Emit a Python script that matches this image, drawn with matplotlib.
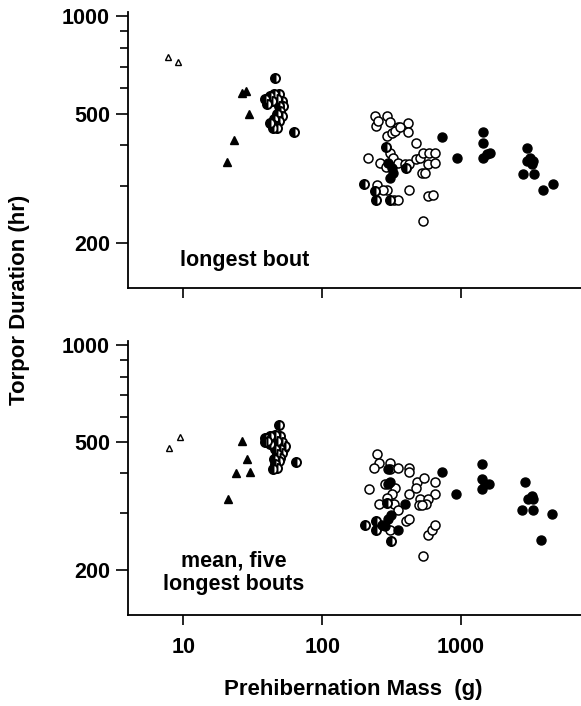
import numpy as np
import matplotlib
matplotlib.use("Agg")
import matplotlib.pyplot as plt
from matplotlib.ticker import FixedLocator, NullFormatter, FixedFormatter

plt.rcParams['font.family'] = ['Liberation Sans', 'DejaVu Sans']
plt.rcParams['font.weight'] = 'bold'

# ---- longest bout (top panel) ----
top_open_tri_x = [7.7, 9.2]
top_open_tri_y = [752, 725]
top_tri_x = [26.4, 28.3, 29.9, 23.3, 20.7]
top_tri_y = [582, 589, 500, 415, 355]
top_half_x = [38.9, 41.8, 45.2, 48.8, 40.0, 43.5, 47.2, 51.3, 52.1, 48.5, 49.9, 47.2,
              51.3, 44.7, 48.5, 43.5, 46.7, 44.2, 47.6, 42.3, 45.9, 63,
              287, 201, 240, 244, 402, 308]
top_half_y = [555, 569, 576, 578, 536, 548, 555, 548, 529, 529, 511, 499,
              493, 481, 475, 464, 459, 453, 451, 470, 646, 440,
              394, 303, 288, 272, 340, 272]
top_open_x = [239, 292, 244, 254, 308, 354, 418, 292, 317, 335, 364, 418, 474, 215,
              261, 287, 308, 326, 354, 395, 425, 474, 507, 536, 592, 650, 582, 650,
              521, 551, 423, 582, 632, 536, 247, 292, 273, 330, 354]
top_open_y = [494, 494, 458, 475, 473, 455, 469, 427, 437, 443, 455, 440, 407, 366,
              353, 342, 379, 366, 353, 350, 350, 362, 366, 379, 379, 379, 350, 353,
              328, 328, 292, 278, 280, 234, 302, 292, 292, 272, 272]
top_fill_x = [300, 317, 326, 308,
              726, 940, 1432, 1432, 1531, 1618, 1445, 2985, 3134, 3311, 2970, 3227,
              2806, 3366, 4613, 3871]
top_fill_y = [353, 340, 328, 317,
              424, 366, 440, 407, 376, 379, 366, 393, 366, 357, 357, 349,
              326, 326, 303, 291]

# ---- mean, five longest bouts (bottom panel) ----
bot_open_tri_x = [7.83, 9.4]
bot_open_tri_y = [481, 520]
bot_tri_x = [26.5, 28.8, 23.8, 30.0, 21.1]
bot_tri_y = [505, 444, 401, 403, 333]
bot_half_x = [38.9, 41.8, 45.9, 49.9, 38.9, 42.3, 47.2, 51.3, 52.8, 49.3, 45.9, 51.3,
              47.2, 49.9, 44.7, 48.5, 45.9, 44.2, 47.2, 40.0, 54.2, 48.5, 64.7,
              294, 203, 244, 244, 312]
bot_half_y = [517, 523, 525, 523, 499, 493, 505, 499, 481, 475, 475, 464,
              459, 448, 443, 437, 427, 414, 417, 505, 487, 565, 433,
              323, 277, 285, 266, 247]
bot_open_x = [247, 257, 237, 306, 306, 349, 419, 419, 216, 285, 332, 318, 480, 543,
              652, 471, 424, 652, 294, 257, 328, 349, 504, 577, 494, 559, 526, 399,
              424, 308, 577, 614, 652, 536]
bot_open_y = [458, 430, 417, 430, 412, 417, 417, 403, 357, 370, 359, 346, 377, 387,
              375, 359, 346, 346, 335, 321, 321, 307, 334, 334, 318, 321, 318, 285,
              288, 266, 258, 266, 276, 221]
bot_fill_x = [299, 394, 312, 299, 268, 285, 352, 300, 308,
              724, 925, 1403, 1403, 1493, 1587, 1403, 2898, 3027, 3216, 3311, 2754,
              3311, 3741, 4510]
bot_fill_y = [371, 321, 297, 288, 276, 275, 266, 412, 375,
              403, 346, 427, 385, 370, 370, 357, 375, 334, 341, 333, 308,
              308, 248, 298]

fig = plt.figure(figsize=(5.81, 7.06), dpi=100)
ax_top = fig.add_axes([0.2203, 0.5921, 0.7797, 0.3909])
ax_bot = fig.add_axes([0.2203, 0.1289, 0.7797, 0.3881])


def draw_panel(ax, otx, oty, tx, ty, hx, hy, ox, oy, fx, fy):
    ax.plot(otx, oty, ls='none', marker='^', ms=4.5, mfc='white', mec='black', mew=1.0)
    ax.plot(tx, ty, ls='none', marker='^', ms=6, color='black')
    ax.plot(ox, oy, ls='none', marker='o', ms=6.5, mfc='white', mec='black', mew=1.1)
    ax.plot(hx, hy, ls='none', marker='o', ms=6.5, fillstyle='left', color='black',
            markerfacecoloralt='white', mec='black', mew=1.4)
    ax.plot(fx, fy, ls='none', marker='o', ms=6.5, color='black')
    ax.set_xscale('log')
    ax.set_yscale('log')
    ax.set_xlim(4.0, 7300)
    ax.set_ylim(145, 1032)
    ax.spines['top'].set_visible(False)
    ax.spines['right'].set_visible(False)
    for s in ('left', 'bottom'):
        ax.spines[s].set_linewidth(1.3)
    ax.yaxis.set_major_locator(FixedLocator([200, 500, 1000]))
    ax.yaxis.set_major_formatter(FixedFormatter(['200', '500', '1000']))
    ax.yaxis.set_minor_locator(FixedLocator([300, 400, 600, 700, 800, 900]))
    ax.yaxis.set_minor_formatter(NullFormatter())
    ax.xaxis.set_major_locator(FixedLocator([10, 100, 1000]))
    ax.xaxis.set_minor_locator(FixedLocator([]))
    ax.tick_params(axis='y', which='major', length=9, width=1.2, pad=4, labelsize=15.5)
    ax.tick_params(axis='y', which='minor', length=5.5, width=1.2)
    ax.tick_params(axis='x', which='major', length=7, width=1.2, pad=9, labelsize=15.5)
    for lab in ax.get_xticklabels() + ax.get_yticklabels():
        lab.set_fontweight('bold')


draw_panel(ax_top, top_open_tri_x, top_open_tri_y, top_tri_x, top_tri_y,
           top_half_x, top_half_y, top_open_x, top_open_y, top_fill_x, top_fill_y)
draw_panel(ax_bot, bot_open_tri_x, bot_open_tri_y, bot_tri_x, bot_tri_y,
           bot_half_x, bot_half_y, bot_open_x, bot_open_y, bot_fill_x, bot_fill_y)

ax_top.xaxis.set_major_formatter(NullFormatter())
ax_bot.xaxis.set_major_formatter(FixedFormatter(['10', '100', '1000']))
for lab in ax_bot.get_xticklabels():
    lab.set_fontweight('bold')

fig.text(245 / 581, 1 - 260 / 706, 'longest bout', fontsize=15.5, fontweight='bold',
         ha='center', va='center')
fig.text(234 / 581, 1 - 573 / 706, 'mean, five\nlongest bouts', fontsize=15.5,
         fontweight='bold', ha='center', va='center', linespacing=1.15)

fig.text(20 / 581, 1 - 300 / 706, 'Torpor Duration (hr)', rotation=90, fontsize=16,
         fontweight='bold', ha='center', va='center')
fig.text(353 / 581, 1 - 690 / 706, 'Prehibernation Mass  (g)', fontsize=16,
         fontweight='bold', ha='center', va='center')

fig.savefig('out.png', dpi=100)
